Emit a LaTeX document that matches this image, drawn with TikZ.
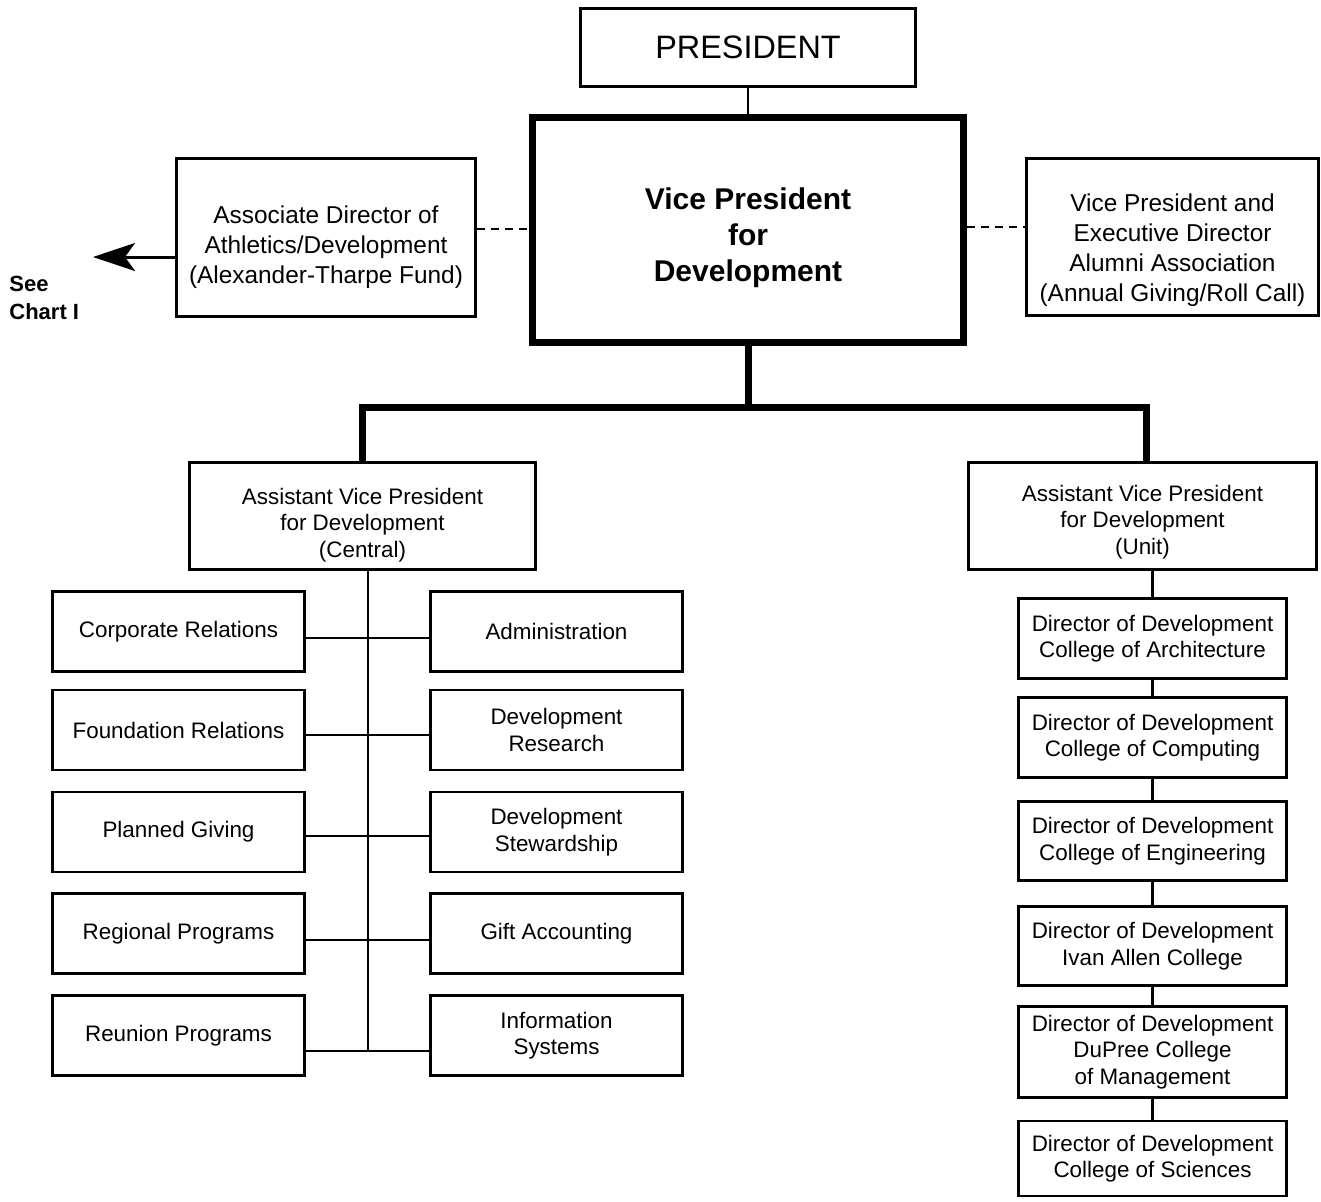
\documentclass[tikz,border=0pt]{standalone}
\usepackage{fontspec}
\setmainfont{Liberation Sans}
\usetikzlibrary{arrows.meta}
\tikzset{
  orgbox/.style={draw, line width=1.35pt, inner sep=0pt, align=center},
  vpbox/.style={draw, line width=3.5pt, inner sep=0pt},
  plaintext/.style={inner sep=0pt, align=center},
  lowfont/.style={font=\fontsize{11.2}{13.3}\selectfont},
  midfont/.style={font=\fontsize{12.2}{15}\selectfont},
  link/.style={line width=1.2pt},
  trunk/.style={line width=3.5pt},
  dotline/.style={line width=1pt, dash pattern=on 4pt off 3pt},
  pointer/.style={line width=1.5pt, -{Stealth[length=21pt,width=14pt,inset=5pt]}},
}

\begin{document}
\begin{tikzpicture}[x=0.5pt, y=-0.5pt]
		%%%%% START %%%%%
		\useasboundingbox (0,0) rectangle (1321,1201);
		
		% top of the chart
		\node[orgbox, minimum width=167.5pt, minimum height=39pt, font=\fontsize{16.2}{19}\selectfont] (president) at (748,47.5) {PRESIDENT};
		\node[vpbox, minimum width=215.5pt, minimum height=112.5pt] (vp) at (748,230) {};
		\node[plaintext, font=\bfseries\fontsize{15}{18}\selectfont] (vptext) at ([yshift=-4pt]vp.center) {Vice President\\for\\Development};
		\draw[link] (president.south) -- (vp.north);
		
		\node[orgbox, minimum width=149.5pt, minimum height=79pt] (assoc) at (326,237.5) {};
		\node[plaintext, midfont] (assoctext) at ([yshift=-5pt]assoc.center) {Associate Director of\\Athletics/Development\\(Alexander-Tharpe Fund)};
		\node[orgbox, minimum width=146pt, minimum height=78.5pt] (alumni) at (1172.5,237) {};
		\node[plaintext, midfont] (alumnitext) at ([yshift=-6.5pt]alumni.center) {Vice President and\\Executive Director\\Alumni Association\\(Annual Giving/Roll Call)};
		
		\draw[dotline] ([yshift=4.25pt]assoc.east) -- ([yshift=4.25pt]assoc.east -| vp.west);
		\draw[dotline] ([yshift=5pt]alumni.west -| vp.east) -- ([yshift=5pt]alumni.west);
		
		\coordinate (chart) at (93,257);
		\draw[pointer] ([yshift=-9.75pt]assoc.west) -- (chart);
		\node[inner sep=0pt, align=left, anchor=north west, font=\bfseries\fontsize{11}{14}\selectfont] (seechart) at (9,276) {See\\Chart I};
		
		% the two assistant vice presidents
		\node[orgbox, minimum width=173pt, minimum height=53.5pt] (central) at (362.5,516) {};
		\node[plaintext, lowfont] (centraltext) at ([yshift=-4.5pt]central.center) {Assistant Vice President\\for Development\\(Central)};
		\node[orgbox, minimum width=174pt, minimum height=53.5pt] (unit) at (1142.5,516) {};
		\node[plaintext, lowfont] (unittext) at ([yshift=-3pt]unit.center) {Assistant Vice President\\for Development\\(Unit)};
		
		\coordinate (fork) at (748,407);
		\draw[trunk] (vp.south) -- (vp.south |- fork);
		\draw[trunk] (central.north) |- (fork) -| ([xshift=1.75pt]unit.north);
		
		% central offices
		\node[orgbox, lowfont, minimum width=126pt, minimum height=40pt] (corporate) at (178.5,631.5) {Corporate Relations};
		\node[orgbox, lowfont, minimum width=126pt, minimum height=40pt] (foundation) at (178.5,730) {Foundation Relations};
		\node[orgbox, lowfont, minimum width=126pt, minimum height=40pt] (planned) at (178.5,832) {Planned Giving};
		\node[orgbox, lowfont, minimum width=126pt, minimum height=40pt] (regional) at (178.5,933.5) {Regional Programs};
		\node[orgbox, lowfont, minimum width=126pt, minimum height=40pt] (reunion) at (178.5,1035.5) {Reunion Programs};
		
		\node[orgbox, lowfont, minimum width=126pt, minimum height=40pt] (admin) at (556.5,631.5) {Administration};
		\node[orgbox, lowfont, minimum width=126pt, minimum height=40pt] (research) at (556.5,730) {Development\\Research};
		\node[orgbox, lowfont, minimum width=126pt, minimum height=40pt] (steward) at (556.5,832) {Development\\Stewardship};
		\node[orgbox, lowfont, minimum width=126pt, minimum height=40pt] (gift) at (556.5,933.5) {Gift Accounting};
		\node[orgbox, lowfont, minimum width=126pt, minimum height=40pt] (infosys) at (556.5,1035.5) {Information\\Systems};
		
		\coordinate (spinetop) at ([xshift=2.75pt]central.south);
		\coordinate (spineend) at ([yshift=-7.75pt]reunion.east);
		\draw[link] (spinetop) -- (spinetop |- spineend);
		\draw[link] ([yshift=-3.25pt]corporate.east) -- ([yshift=-3.25pt]admin.west);
		\draw[link] ([yshift=-2.5pt]foundation.east) -- ([yshift=-2.5pt]research.west);
		\draw[link] ([yshift=-2pt]planned.east) -- ([yshift=-2pt]steward.west);
		\draw[link] ([yshift=-3.25pt]regional.east) -- ([yshift=-3.25pt]gift.west);
		\draw[link] (spineend) -- (spineend -| infosys.west);
		
		% unit directors
		\node[orgbox, lowfont, minimum width=134pt, minimum height=40pt] (arch) at (1152.5,638.5) {Director of Development\\College of Architecture};
		\node[orgbox, lowfont, minimum width=134pt, minimum height=40pt] (computing) at (1152.5,737.5) {Director of Development\\College of Computing};
		\node[orgbox, lowfont, minimum width=134pt, minimum height=39.5pt] (engineering) at (1152.5,841) {Director of Development\\College of Engineering};
		\node[orgbox, lowfont, minimum width=134pt, minimum height=39.5pt] (ivanallen) at (1152.5,946) {Director of Development\\Ivan Allen College};
		\node[orgbox, lowfont, minimum width=134pt, minimum height=45.5pt] (dupree) at (1152.5,1052) {Director of Development\\DuPree College\\of Management};
		\node[orgbox, lowfont, minimum width=134pt, minimum height=37.5pt] (sciences) at (1152.5,1158.5) {Director of Development\\College of Sciences};
		
		\draw[link] (unit.south -| arch.north) -- (arch.north);
		\draw[link] (arch.south) -- (computing.north);
		\draw[link] (computing.south) -- (engineering.north);
		\draw[link] (engineering.south) -- (ivanallen.north);
		\draw[link] (ivanallen.south) -- (dupree.north);
		\draw[link] (dupree.south) -- (sciences.north);
		
		%%%%% END %%%%%
\end{tikzpicture}
\end{document}
